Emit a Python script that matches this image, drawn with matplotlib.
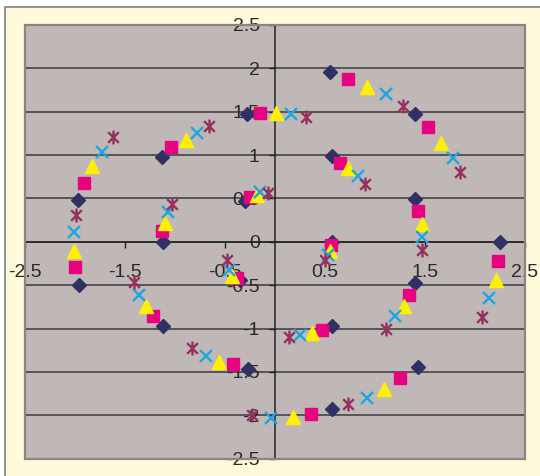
import matplotlib
matplotlib.use("Agg")
import matplotlib.pyplot as plt
from matplotlib.patches import Rectangle
from matplotlib.path import Path
import numpy as np

# five marker series (x, y)
diamond_x = [-1.97, -1.13, -0.28, 0.55, 1.40, 0.57, -0.30, 1.40, 0.57, 2.25,
             -1.12, -1.96, -1.12, -0.27, -0.35, 1.40, 0.57, 1.43, 0.57]
diamond_y = [0.48, 0.98, 1.47, 1.96, 1.47, 0.99, 0.47, 0.49, 0.0, 0.0,
             0.0, -0.50, -0.97, -1.47, -0.44, -0.48, -0.97, -1.44, -1.93]

square_x = [-1.91, -1.04, -0.15, -0.25, -1.13, 0.73, 1.53, 0.65, 1.43, -2.00,
            -1.22, -0.42, -0.38, 0.56, 2.23, 1.34, 0.47, 1.25, 0.36]
square_y = [0.68, 1.09, 1.49, 0.52, 0.12, 1.88, 1.32, 0.91, 0.36, -0.29,
            -0.86, -1.41, -0.42, -0.04, -0.22, -0.61, -1.02, -1.57, -1.98]

tri_x = [-1.83, -0.89, 0.01, -0.18, -1.10, 0.92, 1.66, 0.73, 1.47, -2.01,
         -1.29, -0.56, -0.43, 0.55, 2.21, 1.29, 0.37, 1.09, 0.18]
tri_y = [0.87, 1.17, 1.48, 0.54, 0.22, 1.78, 1.14, 0.85, 0.20, -0.11,
         -0.74, -1.39, -0.40, -0.11, -0.44, -0.74, -1.05, -1.70, -2.02]

cross_x = [-1.73, -0.78, 0.16, 1.11, 1.78, 0.83, 1.47, -1.07, -2.01, -0.15,
           -1.36, -0.69, -0.04, -0.46, 0.53, 2.14, 1.20, 0.25, 0.92]
cross_y = [1.04, 1.26, 1.47, 1.70, 0.97, 0.76, 0.06, 0.34, 0.11, 0.58,
           -0.61, -1.32, -2.03, -0.33, -0.15, -0.65, -0.86, -1.08, -1.80]

star_x = [-1.62, -0.66, -1.99, -1.03, -0.07, 0.31, 1.28, 1.85, 0.90, 1.47,
          0.50, 2.07, 1.11, 0.14, 0.73, -1.41, -0.83, -0.23, -0.48]
star_y = [1.21, 1.33, 0.31, 0.44, 0.56, 1.44, 1.57, 0.80, 0.67, -0.09,
          -0.21, -0.87, -1.00, -1.10, -1.87, -0.46, -1.23, -2.00, -0.21]

xticks = [-2.5, -1.5, -0.5, 0.5, 1.5, 2.5]
yticks = [-2.5, -2, -1.5, -1, -0.5, 0, 0.5, 1, 1.5, 2, 2.5]

# excel style asterisk: an x with a vertical bar
asterisk = Path([(-1, -1), (1, 1), (-1, 1), (1, -1), (0, -1.3), (0, 1.3)],
                [Path.MOVETO, Path.LINETO, Path.MOVETO, Path.LINETO,
                 Path.MOVETO, Path.LINETO])

plt.rcParams['font.family'] = ['Liberation Sans', 'DejaVu Sans']

fig = plt.figure(figsize=(5.4, 4.76), dpi=100)
fig.patch.set_facecolor('white')
fig.add_artist(Rectangle((5 / 540, -0.1), 1.0, 1 - 6.5 / 476 + 0.1,
                         transform=fig.transFigure, facecolor='#FFFADB',
                         edgecolor='#808080', linewidth=1.2, zorder=0))

ax = fig.add_axes([25 / 540, 1 - 458.6 / 476, 500 / 540, 433.6 / 476])
ax.set_facecolor('#C0B8B6')
ax.set_xlim(-2.5, 2.5)
ax.set_ylim(-2.5, 2.5)

for y in yticks[1:-1]:
    ax.axhline(y, color='#3A3A3A', linewidth=1.1, zorder=1)

ax.spines['left'].set_position(('data', 0))
ax.spines['bottom'].set_position(('data', 0))
for s in ['left', 'bottom']:
    ax.spines[s].set_color('#222222')
    ax.spines[s].set_linewidth(1.1)
for s in ['top', 'right']:
    ax.spines[s].set_visible(False)
ax.add_patch(Rectangle((0, 0), 1, 1, transform=ax.transAxes, fill=False,
                       edgecolor='#8C8480', linewidth=1.6, clip_on=False, zorder=3))

ax.set_xticks(xticks)
ax.set_xticklabels([f'{v:g}' for v in xticks])
ax.set_yticks(yticks)
ax.set_yticklabels([f'{v:g}' for v in yticks])
ax.tick_params(axis='x', direction='out', length=4, width=1, color='#222222',
               labelsize=14, labelcolor='#2A2A2A', pad=12)
ax.tick_params(axis='y', direction='out', length=4, width=1, color='#222222',
               labelsize=14, labelcolor='#2A2A2A', pad=7)

ax.plot(diamond_x, diamond_y, linestyle='none', marker='D', ms=7.6,
        color='#2F3064', mec='#2F3064', zorder=4, clip_on=False)
ax.plot(square_x, square_y, linestyle='none', marker='s', ms=8,
        color='#E5037F', mec='#E5037F', zorder=4, clip_on=False)
ax.plot(tri_x, tri_y, linestyle='none', marker='^', ms=9.8,
        color='#FFF000', mec='#FFF000', zorder=4, clip_on=False)
ax.plot(cross_x, cross_y, linestyle='none', marker='x', ms=9,
        mew=1.7, color='#1BA8E0', zorder=4, clip_on=False)
ax.plot(star_x, star_y, linestyle='none', marker=asterisk, ms=10,
        mew=1.7, color='#96305F', zorder=4, clip_on=False)

fig.savefig('out.png', dpi=100)
